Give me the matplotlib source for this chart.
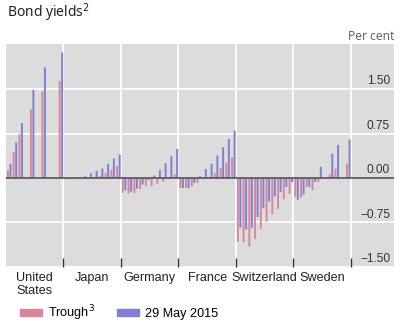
import numpy as np
import matplotlib
matplotlib.use("Agg")
import matplotlib.pyplot as plt
from matplotlib.patches import Patch
from matplotlib.transforms import blended_transform_factory

countries = ["United\nStates", "Japan", "Germany", "France", "Switzerland", "Sweden"]
maturities = [1, 2, 3, 4, 5, 6, 7, 8, 9, 10]
nan = np.nan

trough_us = [0.13, 0.44, 0.74, nan, 1.16, nan, 1.47, nan, nan, 1.64]
may_us = [0.24, 0.60, 0.93, nan, 1.49, nan, 1.87, nan, nan, 2.12]
trough_jp = [-0.02, -0.02, -0.02, 0.0, 0.0, 0.01, 0.03, 0.08, 0.14, 0.20]
may_jp = [0.005, 0.005, 0.005, 0.03, 0.08, 0.12, 0.16, 0.24, 0.33, 0.40]
trough_de = [-0.25, -0.26, -0.25, -0.19, -0.14, -0.14, -0.10, -0.06, -0.02, 0.06]
may_de = [-0.21, -0.23, -0.18, -0.11, -0.03, 0.04, 0.14, 0.25, 0.37, 0.49]
trough_fr = [-0.17, -0.17, -0.14, -0.085, -0.02, 0.0, 0.085, 0.17, 0.26, 0.35]
may_fr = [-0.17, -0.17, -0.085, 0.03, 0.15, 0.24, 0.38, 0.52, 0.66, 0.80]
trough_ch = [-1.08, -1.09, -1.16, -1.03, -0.86, -0.74, -0.61, -0.52, -0.36, -0.27]
may_ch = [-0.84, -0.87, -0.84, -0.66, -0.51, -0.40, -0.31, -0.24, -0.15, -0.07]
trough_se = [-0.32, -0.33, -0.15, -0.21, -0.07, nan, 0.06, 0.16, nan, 0.24]
may_se = [-0.37, -0.28, -0.15, -0.07, 0.19, nan, 0.41, 0.56, nan, 0.65]

trough = [trough_us, trough_jp, trough_de, trough_fr, trough_ch, trough_se]
may = [may_us, may_jp, may_de, may_fr, may_ch, may_se]

yticks = [-1.5, -0.75, 0.0, 0.75, 1.5]
ytick_labels = ["\u22121.50", "\u22120.75", "0.00", "0.75", "1.50"]

PINK = "#D8879A"
PURPLE = "#8080D2"
BG = "#DCDCDC"

fig = plt.figure(figsize=(4, 3.25), dpi=100)
ax = fig.add_axes([6 / 400, 1 - 266.7 / 325, 388 / 400, (266.7 - 44.3) / 325])
ax.set_facecolor(BG)
ax.set_xlim(0, 67.5)
ax.set_ylim(-1.5, 2.26)

m = np.array(maturities, dtype=float)
bw = 0.34
for i in range(len(countries)):
    xc = i * 10 + m - 0.45
    ax.bar(xc - 0.22, trough[i], width=bw, color=PINK, zorder=3,
           linewidth=0, snap=False)
    ax.bar(xc + 0.22, may[i], width=bw, color=PURPLE, zorder=3,
           linewidth=0, snap=False)

# grid
for y in yticks:
    if y != 0:
        ax.axhline(y, color="white", lw=1.3, zorder=1)
for x in range(10, 70, 10):
    ax.axvline(x, color="white", lw=1.3, zorder=1)
ax.axhline(0, color="#555555", lw=1.2, zorder=4)

for s in ax.spines.values():
    s.set_visible(False)
ax.set_yticks([])
ax.set_xticks(list(range(10, 70, 10)))
ax.set_xticklabels([])
ax.tick_params(axis="x", direction="in", length=6.5, width=1, color="#333333", pad=0)

# y tick labels inside right area, above gridlines
tr = blended_transform_factory(ax.transAxes, ax.transData)
for y, lab in zip(yticks, ytick_labels):
    ax.text(0.99, y + 0.03, lab, transform=tr, ha="right", va="bottom",
            fontsize=8.6, color="#333333", family="Liberation Sans")

# country labels
trx = blended_transform_factory(ax.transData, ax.transAxes)
for i, c in enumerate(countries):
    ax.text(i * 10 + 5, -0.022, c, transform=trx, ha="center", va="top",
            fontsize=9.1, color="#222222", family="Liberation Sans",
            multialignment="left", linespacing=1.15)

# title and unit
fig.text(7 / 400, 1 - 13 / 325, r"Bond yields$^{2}$", ha="left", va="center",
         fontsize=10, color="#222222", family="Noto Sans")
fig.text(394 / 400, 1 - 36 / 325, "Per cent", ha="right", va="center",
         fontsize=8.6, color="#666666", family="Noto Sans")

handles = [Patch(color=PINK, label=r"Trough$^{3}$"),
           Patch(color=PURPLE, label="29 May 2015")]
fig.legend(handles=handles, loc="center left", bbox_to_anchor=(20 / 400, 12 / 325),
           ncol=2, frameon=False, borderpad=0, borderaxespad=0,
           handlelength=1.75, handleheight=0.5, handletextpad=0.5,
           columnspacing=1.7, prop={"family": "Liberation Sans", "size": 9.1})

fig.savefig("out.png", dpi=100)
